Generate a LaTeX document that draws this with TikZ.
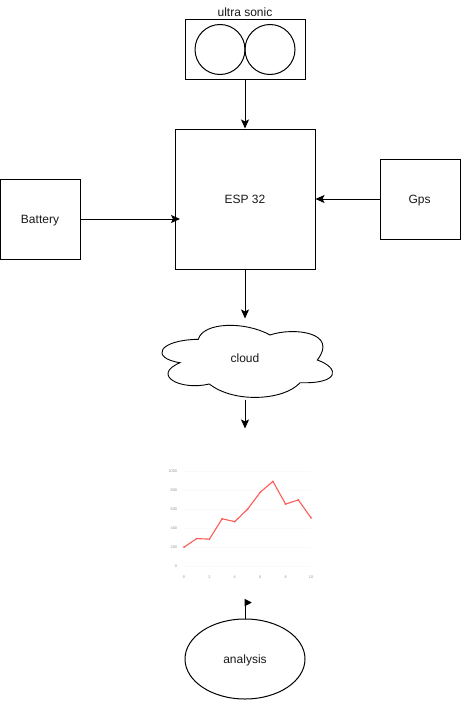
\documentclass[tikz,border=0pt]{standalone}
\usepackage{fontspec}
\setmainfont{Liberation Sans}
\usetikzlibrary{arrows.meta,shapes.geometric}
\definecolor{tick}{HTML}{8F959E}
\definecolor{gridc}{HTML}{FAFAFB}
\definecolor{plot}{HTML}{FF5B57}
\begin{document}
\begin{tikzpicture}[x=1pt,y=-1pt,line width=1pt,
  txt/.style={font=\fontsize{12}{14}\selectfont,text=black!90,text height=10pt,text depth=2pt},
  box/.style={draw,rectangle,inner sep=0pt,txt},
  round/.style={draw,circle,inner sep=0pt,minimum size=50pt},
  conn/.style={-{Stealth[length=9pt,width=8pt,inset=2pt]}},
  ticklab/.style={font=\fontsize{3.8}{4}\selectfont,text=tick,inner sep=0pt},
  ghost/.style={inner sep=0pt,txt}]
\useasboundingbox (0,0) rectangle (462,701);
\fill[white] (0,0) rectangle (462,701);
% boxes
\node[box,minimum width=120pt,minimum height=60pt] (us) at (245,49.5) {};
\node[round] (c1) at (220,49.5) {};
\node[round] (c2) at (270,49.5) {};
\node[txt,inner sep=0pt] (uslabel) at (245,13) {ultra sonic};
\node[box,minimum width=140pt,minimum height=140pt] (esp) at (245,199) {ESP 32};
\node[box,minimum width=80pt,minimum height=80pt] (bat) at (40,219) {Battery};
\node[box,minimum width=80pt,minimum height=80pt] (gps) at (420,199) {\hspace*{-1pt}Gps};
\coordinate (batend) at (180,219);
% cloud
\node[ghost,minimum width=180pt,minimum height=80pt] (cloud) at (245,359) {};
\draw[line width=.9pt] (198.3,339.3)
  .. controls (203,322) and (245,321) .. (270,335)
  .. controls (293,327) and (339,332) .. (317.3,360)
  .. controls (340,368) and (340,384) .. (300,382.7)
  .. controls (285,400) and (235,404) .. (209.3,384)
  .. controls (180,391) and (151,375) .. (180,362.7)
  .. controls (150,358) and (158,340) .. (198.3,339.3) -- cycle;
\node[txt,inner sep=0pt] (cloudlabel) at (245,358) {cloud};
% chart
\node[ghost,minimum width=170pt,minimum height=170pt] (chart) at (245,514) {};
\foreach \v/\l in {0/0,200/200,400/400,600/600,800/800,1000/1000}{
  \draw[gridc,line width=.4pt] (184,566-\v*.0945) -- (311,566-\v*.0945);
  \node[ticklab,anchor=east] at (177.5,566-\v*.0945) {\l};
}
\foreach \v in {0,2,4,6,8,10}{
  \node[ticklab] at (184+\v*12.7,577) {\v};
}
\draw[plot,line width=1.1pt,line join=round]
  (184.0,547.1) -- (196.7,538.6) -- (209.4,539.1) -- (222.1,518.8) -- (234.8,521.6)
  -- (247.5,509.3) -- (260.2,492.3) -- (272.9,481.4) -- (285.6,504.1) -- (298.3,499.9) -- (311.0,517.8);
\foreach \x/\y in {184.0/547.1,196.7/538.6,209.4/539.1,222.1/518.8,234.8/521.6,247.5/509.3,260.2/492.3,272.9/481.4,285.6/504.1,298.3/499.9,311.0/517.8}{
  \fill[plot] (\x,\y) circle (1pt);
}
% analysis
\node[draw,ellipse,minimum width=120pt,minimum height=80pt,inner sep=0pt,txt] (ana) at (245,659) {analysis};
% connectors
\draw[conn] (us.south) -- (esp.north);
\draw[conn] (bat.east) -- (batend);
\draw[conn] (gps.west) -- (esp.east);
\draw[conn] (esp.south) -- (cloud.north);
\draw[conn] (cloud.south) -- (chart.north);
\draw (ana.north) -- (chart.south);
\fill (chart.south) ++(-.5,-.7) -- ++(7.2,3.6) -- ++(-2.6,1.7) -- ++(-4.6,2.1) -- cycle;
\end{tikzpicture}
\end{document}
